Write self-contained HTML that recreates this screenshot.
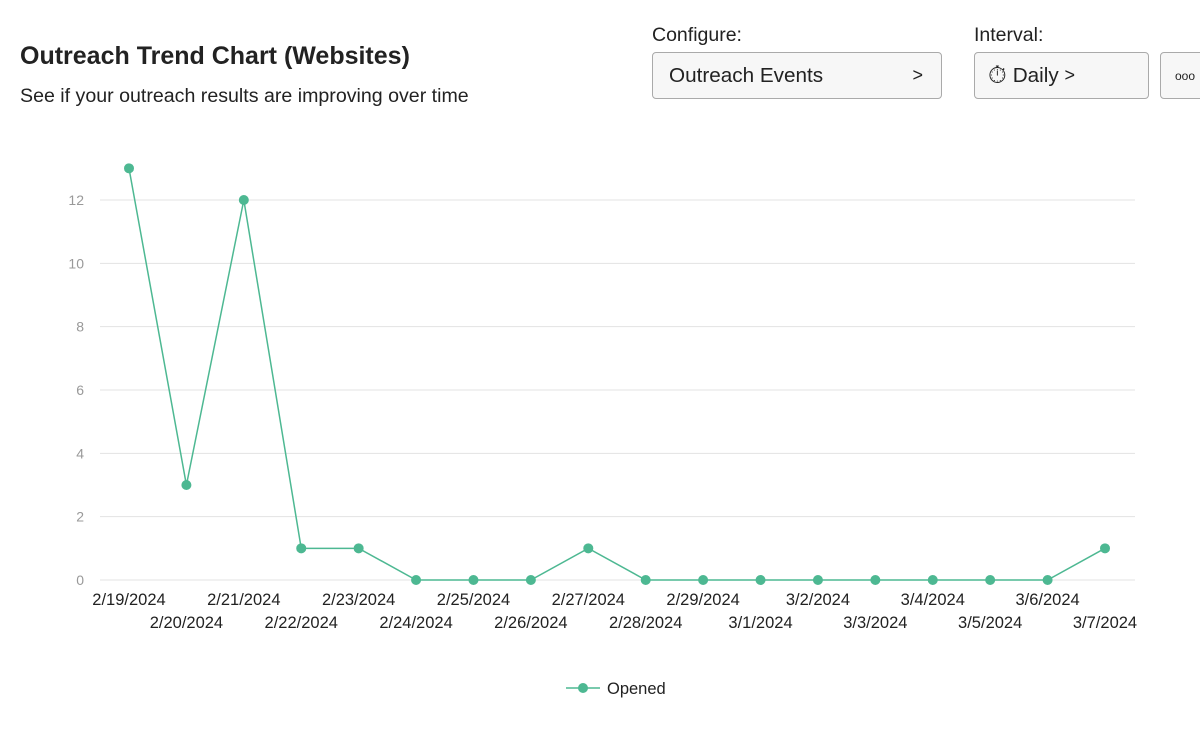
<!DOCTYPE html>
<html><head><meta charset="utf-8"><style>
body{margin:0;width:1200px;height:731px;background:#fff;font-family:"Liberation Sans",sans-serif;overflow:hidden;position:relative}
.t{position:absolute;left:20px;top:42px;font-size:25px;font-weight:bold;color:#222}
.s{position:absolute;left:20px;top:85px;font-size:19.6px;color:#222}
.lbl{position:absolute;font-size:19.5px;color:#222}
.btn{position:absolute;top:52px;height:47px;border:1px solid #aaa;border-radius:4px;background:#f7f7f7;box-sizing:border-box;font-size:20.7px;color:#222;display:flex;align-items:center}
</style></head><body>
<div class="t">Outreach Trend Chart (Websites)</div>
<div class="s">See if your outreach results are improving over time</div>
<div class="lbl" style="left:652px;top:24px">Configure:</div>
<div class="lbl" style="left:974px;top:24px">Interval:</div>
<div class="btn" style="left:652px;width:290px;padding-left:16px">Outreach Events<span style="position:absolute;right:18px;font-size:18px">&gt;</span></div>
<div class="btn" style="left:974px;width:175px;padding-left:13px"><span style="font-size:24px;margin-right:6px">⏱</span>Daily&nbsp;<span style="font-size:18px">&gt;</span></div>
<div class="btn" style="left:1160px;width:60px;padding-left:14px;font-size:12px">ooo</div>
<svg id="c" width="1200" height="731" style="position:absolute;left:0;top:0"></svg>
<script>
const categories=["2/19/2024","2/20/2024","2/21/2024","2/22/2024","2/23/2024","2/24/2024","2/25/2024","2/26/2024","2/27/2024","2/28/2024","2/29/2024","3/1/2024","3/2/2024","3/3/2024","3/4/2024","3/5/2024","3/6/2024","3/7/2024"];
const openedValues=[13,3,12,1,1,0,0,0,1,0,0,0,0,0,0,0,0,1];
const yTicks=[0,2,4,6,8,10,12];
const NS="http://www.w3.org/2000/svg",svg=document.getElementById('c');
const x=i=>129+i*(1105-129)/(categories.length-1);
const y=v=>580-v*(380/12);
function mk(t,a,txt){const e=document.createElementNS(NS,t);for(const k in a)e.setAttribute(k,a[k]);if(txt!=null)e.textContent=txt;svg.appendChild(e);return e;}
yTicks.forEach(v=>{
 let g=mk('line',{x1:100,x2:1135,y1:y(v),y2:y(v),stroke:'#e3e3e3','stroke-width':1});
 
 
 let t=mk('text',{x:84,y:y(v)+5,'text-anchor':'end','font-size':14,fill:'#999','font-family':'Liberation Sans'},v);
 
 
});
categories.forEach((c,i)=>{
 let t=mk('text',{x:x(i),y:i%2?628:605,'text-anchor':'middle','font-size':16.5,fill:'#222','font-family':'Liberation Sans'},c);
 
 
});
let p=mk('polyline',{points:openedValues.map((v,i)=>x(i)+','+y(v)).join(' '),fill:'none',stroke:'#4db892','stroke-width':1.5});


openedValues.forEach((v,i)=>{
 let d=mk('circle',{cx:x(i),cy:y(v),r:5,fill:'#4db892'});
 
 
});
let l=mk('line',{x1:566,x2:600,y1:688,y2:688,stroke:'#4db892','stroke-width':1.5});


let lc=mk('circle',{cx:583,cy:688,r:5,fill:'#4db892'});


let lt=mk('text',{x:607,y:694,'font-size':16.5,fill:'#222','font-family':'Liberation Sans'},'Opened');


</script>
</body></html>
